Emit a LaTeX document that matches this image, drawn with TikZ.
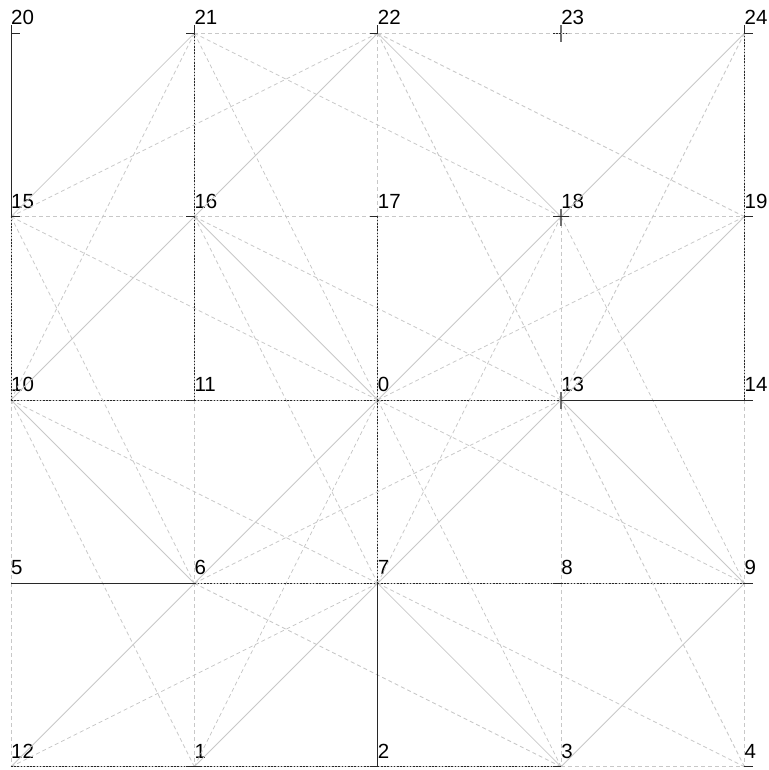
\documentclass[tikz,border=0pt]{standalone}
\usepackage{fontspec}
\setmainfont{Liberation Sans}
\usetikzlibrary{positioning}
\definecolor{edgegray}{RGB}{200,200,200}
\definecolor{treedark}{RGB}{40,40,40}
\definecolor{stubgray}{RGB}{110,110,110}
\tikzset{
  vtx/.style={coordinate},
  lbl/.style={anchor=base west,inner sep=0pt,xshift=0pt,yshift=8.5pt,font=\fontsize{20.5}{22}\selectfont},
  orthedge/.style={draw=edgegray,dash pattern=on 4pt off 3pt,line width=0.8pt},
  diagedge/.style={draw=edgegray,line width=0.8pt},
  knightedge/.style={orthedge},
  treeedge/.style={preaction={draw=edgegray,solid,line width=1pt},draw=treedark,dash pattern=on 1.6pt off 1.6pt,line width=0.9pt},
  treesolid/.style={draw=treedark,line width=1pt},
  stub/.style={draw=treedark,line width=1pt},
  stubv/.style={draw=stubgray,line width=1.2pt}
}

\begin{document}
\begin{tikzpicture}[x=183.35pt,y=-183.35pt]
  \useasboundingbox (-11pt,33.3pt) rectangle (757pt,-736.7pt);
  % grid points
  \node[vtx,label={[lbl]20}] (n20) at (0,0) {};
  \node[vtx,label={[lbl]21}] (n21) at (1,0) {};
  \node[vtx,label={[lbl]22}] (n22) at (2,0) {};
  \node[vtx,label={[lbl]23}] (n23) at (3,0) {};
  \node[vtx,label={[lbl]24}] (n24) at (4,0) {};
  \node[vtx,label={[lbl]15}] (n15) at (0,1) {};
  \node[vtx,label={[lbl]16}] (n16) at (1,1) {};
  \node[vtx,label={[lbl]17}] (n17) at (2,1) {};
  \node[vtx,label={[lbl]18}] (n18) at (3,1) {};
  \node[vtx,label={[lbl]19}] (n19) at (4,1) {};
  \node[vtx,label={[lbl]10}] (n10) at (0,2) {};
  \node[vtx,label={[lbl]11}] (n11) at (1,2) {};
  \node[vtx,label={[lbl]0}] (n0) at (2,2) {};
  \node[vtx,label={[lbl]13}] (n13) at (3,2) {};
  \node[vtx,label={[lbl]14}] (n14) at (4,2) {};
  \node[vtx,label={[lbl]5}] (n5) at (0,3) {};
  \node[vtx,label={[lbl]6}] (n6) at (1,3) {};
  \node[vtx,label={[lbl]7}] (n7) at (2,3) {};
  \node[vtx,label={[lbl]8}] (n8) at (3,3) {};
  \node[vtx,label={[lbl]9}] (n9) at (4,3) {};
  \node[vtx,label={[lbl]12}] (n12) at (0,4) {};
  \node[vtx,label={[lbl]1}] (n1) at (1,4) {};
  \node[vtx,label={[lbl]2}] (n2) at (2,4) {};
  \node[vtx,label={[lbl]3}] (n3) at (3,4) {};
  \node[vtx,label={[lbl]4}] (n4) at (4,4) {};
  % neighbour edges
  \draw[orthedge] (n21) -- (n22); \draw[orthedge] (n22) -- (n23); \draw[orthedge] (n23) -- (n24);
  \draw[orthedge] (n15) -- (n16); \draw[orthedge] (n16) -- (n17); \draw[orthedge] (n17) -- (n18); \draw[orthedge] (n18) -- (n19);
  \draw[orthedge] (n10) -- (n11); \draw[orthedge] (n11) -- (n0); \draw[orthedge] (n0) -- (n13); \draw[orthedge] (n13) -- (n14);
  \draw[orthedge] (n5) -- (n6); \draw[orthedge] (n6) -- (n7); \draw[orthedge] (n7) -- (n8); \draw[orthedge] (n8) -- (n9);
  \draw[orthedge] (n12) -- (n1); \draw[orthedge] (n1) -- (n2); \draw[orthedge] (n2) -- (n3); \draw[orthedge] (n3) -- (n4);
  \draw[orthedge] (n20) -- (n15); \draw[orthedge] (n15) -- (n10); \draw[orthedge] (n10) -- (n5); \draw[orthedge] (n5) -- (n12);
  \draw[orthedge] (n21) -- (n16); \draw[orthedge] (n16) -- (n11); \draw[orthedge] (n11) -- (n6); \draw[orthedge] (n6) -- (n1);
  \draw[orthedge] (n22) -- (n17); \draw[orthedge] (n17) -- (n0); \draw[orthedge] (n0) -- (n7); \draw[orthedge] (n7) -- (n2);
  \draw[orthedge] (n18) -- (n13); \draw[orthedge] (n13) -- (n8); \draw[orthedge] (n8) -- (n3);
  \draw[orthedge] (n24) -- (n19); \draw[orthedge] (n19) -- (n14); \draw[orthedge] (n14) -- (n9); \draw[orthedge] (n9) -- (n4);
  % diagonal edges
  \draw[diagedge] (n21) -- (n15); \draw[diagedge] (n22) -- (n16); \draw[diagedge] (n22) -- (n18); \draw[diagedge] (n24) -- (n18);
  \draw[diagedge] (n16) -- (n10); \draw[diagedge] (n16) -- (n0); \draw[diagedge] (n18) -- (n0); \draw[diagedge] (n19) -- (n13);
  \draw[diagedge] (n10) -- (n6); \draw[diagedge] (n0) -- (n6); \draw[diagedge] (n13) -- (n7); \draw[diagedge] (n13) -- (n9);
  \draw[diagedge] (n6) -- (n12); \draw[diagedge] (n7) -- (n1); \draw[diagedge] (n7) -- (n3); \draw[diagedge] (n9) -- (n3);
  % knight edges
  \draw[knightedge] (n21) -- (n18); \draw[knightedge] (n21) -- (n10); \draw[knightedge] (n21) -- (n0);
  \draw[knightedge] (n22) -- (n15); \draw[knightedge] (n22) -- (n19); \draw[knightedge] (n22) -- (n13);
  \draw[knightedge] (n24) -- (n13);
  \draw[knightedge] (n15) -- (n6); \draw[knightedge] (n15) -- (n0);
  \draw[knightedge] (n16) -- (n13); \draw[knightedge] (n16) -- (n7);
  \draw[knightedge] (n18) -- (n7); \draw[knightedge] (n18) -- (n9);
  \draw[knightedge] (n19) -- (n0);
  \draw[knightedge] (n10) -- (n7); \draw[knightedge] (n10) -- (n1);
  \draw[knightedge] (n0) -- (n9); \draw[knightedge] (n0) -- (n3); \draw[knightedge] (n0) -- (n1);
  \draw[knightedge] (n13) -- (n6); \draw[knightedge] (n13) -- (n4);
  \draw[knightedge] (n6) -- (n3);
  \draw[knightedge] (n7) -- (n4); \draw[knightedge] (n7) -- (n12);
  % tree
  \draw[treesolid] (n20) -- (n15); \draw[treesolid] (n13) -- (n14); \draw[treesolid] (n5) -- (n6); \draw[treesolid] (n7) -- (n2);
  \draw[treeedge] (n15) -- (n10); \draw[treeedge] (n10) -- (n11); \draw[treeedge] (n11) -- (n0); \draw[treeedge] (n21) -- (n16);
  \draw[treeedge] (n16) -- (n11); \draw[treeedge] (n17) -- (n0); \draw[treeedge] (n0) -- (n7); \draw[treeedge] (n0) -- (n13);
  \draw[treeedge] (n14) -- (n19); \draw[treeedge] (n19) -- (n24); \draw[treeedge] (n6) -- (n7); \draw[treeedge] (n7) -- (n8);
  \draw[treeedge] (n8) -- (n9); \draw[treeedge] (n12) -- (n1); \draw[treeedge] (n1) -- (n2); \draw[treeedge] (n2) -- (n3);
  % ticks
  \draw[stub] (n20) -- ++(9pt,0pt); \draw[stub] (n20) -- ++(0pt,8pt);
  \draw[stub] (n21) -- ++(-8pt,0pt); \draw[stub] (n21) -- ++(0pt,8pt);
  \draw[stub] (n22) -- ++(-8pt,0pt); \draw[stub] (n22) -- ++(0pt,8pt);
  \draw[stubv] (n23) ++(0pt,8pt) -- ++(0pt,-17pt); \draw[treeedge] (n23) ++(-8pt,0pt) -- ++(16pt,0pt);
  \draw[stub] (n24) -- ++(9pt,0pt); \draw[stub] (n24) -- ++(0pt,8pt);
  \draw[stub] (n15) -- ++(9pt,0pt); \draw[stub] (n16) -- ++(-8pt,0pt); \draw[stub] (n17) -- ++(-8pt,0pt);
  \draw[stubv] (n18) ++(0pt,8pt) -- ++(0pt,-17pt); \draw[stub] (n18) ++(-8pt,0pt) -- ++(16pt,0pt);
  \draw[stub] (n19) -- ++(9pt,0pt); \draw[stub] (n11) -- ++(-8pt,0pt);
  \draw[stubv] (n13) ++(0pt,8pt) -- ++(0pt,-17pt); \draw[stub] (n13) -- ++(8pt,0pt);
  \draw[stub] (n14) -- ++(9pt,0pt); \draw[stub] (n6) -- ++(-8pt,0pt); \draw[stub] (n8) -- ++(-8pt,0pt);
  \draw[stub] (n9) -- ++(9pt,0pt); \draw[stub] (n1) ++(-8pt,0pt) -- ++(16pt,0pt);
  \draw[stub] (n2) -- ++(-8pt,0pt); \draw[stub] (n3) -- ++(-8pt,0pt); \draw[stub] (n4) -- ++(9pt,0pt);
\end{tikzpicture}
\end{document}
